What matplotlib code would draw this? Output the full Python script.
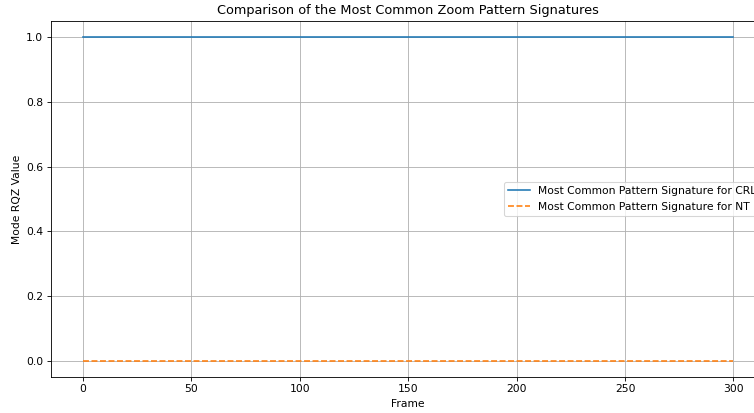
import numpy as np
import matplotlib
matplotlib.use("Agg")
import matplotlib.pyplot as plt

# frames and mode RQZ values
frames = list(range(0, 301))
crl_mode = [1.0] * len(frames)
nt_mode = [0.0] * len(frames)

W, H = 754, 413
DPI = 77  # reference is rendered at roughly 0.77 scale
fig = plt.figure(figsize=(W / DPI, H / DPI), dpi=DPI)
# axes runs past the right edge of the picture, as in the reference
ax = fig.add_axes([50.5 / W, (H - 377) / H, (766 - 50.5) / W, (377 - 20.8) / H])

ax.plot(frames, crl_mode, "-", label="Most Common Pattern Signature for CRL")
ax.plot(frames, nt_mode, "--", label="Most Common Pattern Signature for NT")
ax.set_title("Comparison of the Most Common Zoom Pattern Signatures")
ax.set_xlabel("Frame")
ax.set_ylabel("Mode RQZ Value")
ax.grid(True)
ax.legend(loc="center right")

fig.savefig("out.png", dpi=DPI)
